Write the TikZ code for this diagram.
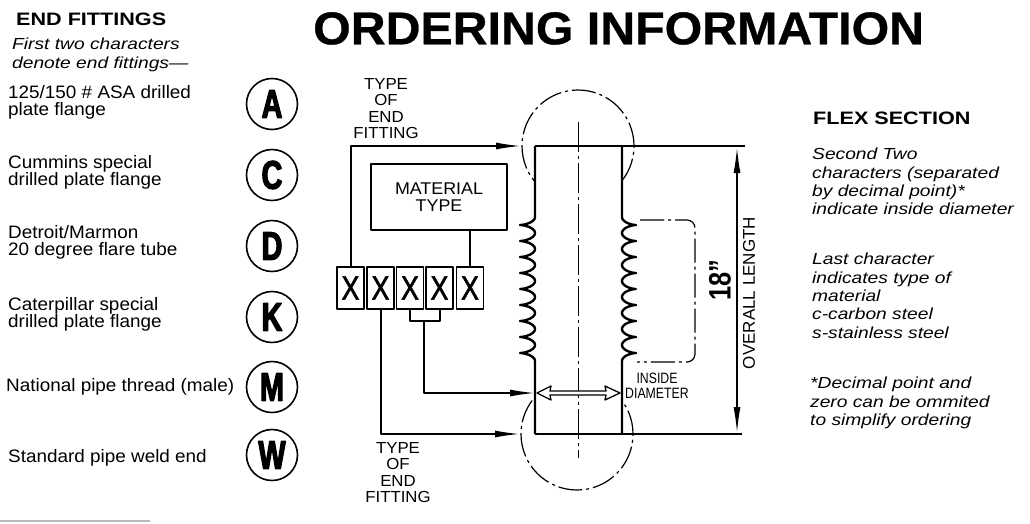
\documentclass[tikz,border=0pt]{standalone}
\usepackage{fontspec}
\setmainfont{Liberation Sans}
\newfontfamily\ttlfont{Liberation Sans}[FakeStretch=1.05,FakeBold=0.6]
\newfontfamily\hdfont{Liberation Sans}[FakeStretch=1.2]
\newfontfamily\txtfont{Liberation Sans}[FakeStretch=1.05]
\newfontfamily\keyfont{Liberation Sans}[FakeStretch=0.72,FakeBold=3]
\newfontfamily\cndfont{Liberation Sans}[FakeStretch=0.82]
\newfontfamily\xfont{Liberation Sans}[FakeStretch=0.8,FakeBold=1.5]
\usetikzlibrary{arrows.meta}
\begin{document}
\begin{tikzpicture}[x=1pt,y=-1pt,line join=round,
    lbl/.style={inner sep=0pt,anchor=north west,align=left,font=\txtfont\fontsize{18}{17.5}\selectfont},
    note/.style={inner sep=0pt,anchor=north west,align=left,font=\hdfont\itshape\fontsize{16}{18.3}\selectfont},
    key/.style={draw,circle,line width=1.6pt,minimum size=51pt,inner sep=0pt,font=\keyfont\bfseries\fontsize{40}{40}\selectfont},
    xbox/.style={draw,line width=1.4pt,minimum width=27pt,minimum height=42pt,inner sep=0pt,font=\xfont\fontsize{34}{34}\selectfont},
    tag/.style={inner sep=0pt,anchor=north,align=center,font=\txtfont\fontsize{16}{16.5}\selectfont},
    lead/.style={line width=2pt},
    phantom/.style={line width=1.2pt,dash pattern=on 24pt off 4pt on 3pt off 4pt},
    >={Latex[length=26pt,width=7pt]}]
\useasboundingbox (0,0) rectangle (1030,523);
% headings
\node[inner sep=0pt,anchor=north west,font=\ttlfont\bfseries\fontsize{46}{46}\selectfont] (title) at (313,12) {ORDERING INFORMATION};
\node[inner sep=0pt,anchor=north west,font=\hdfont\bfseries\fontsize{18}{18}\selectfont] (endhd) at (16,13) {END FITTINGS};
\node[note] (endsub) at (12,38) {First two characters\\denote end fittings\textemdash};
% end fitting list
\node[lbl] (txtA) at (8,85) {125/150 \# ASA drilled\\plate flange};
\node[lbl] (txtC) at (8,155) {Cummins special\\drilled plate flange};
\node[lbl] (txtD) at (8,225) {Detroit/Marmon\\20 degree flare tube};
\node[lbl] (txtK) at (8,297) {Caterpillar special\\drilled plate flange};
\node[lbl] (txtM) at (6,378) {National pipe thread (male)};
\node[lbl] (txtW) at (8,449) {Standard pipe weld end};
\foreach \k/\yy in {A/104,C/175,D/246,K/317,M/387,W/455}
    \node[key] (fit\k) at (272,\yy) {\k};
% code boxes
\foreach \i/\xx in {1/350.5,2/380.5,3/410,4/439.5,5/470}
    \node[xbox] (x\i) at (\xx,288) {X};
\node[draw,line width=1.4pt,minimum width=136pt,minimum height=66pt,align=center,font=\txtfont\fontsize{17}{17}\selectfont] (mat) at (439,197) {MATERIAL\\TYPE};
\node[tag] (typtop) at (386,78) {TYPE\\OF\\END\\FITTING};
\node[tag] (typbot) at (398,442) {TYPE\\OF\\END\\FITTING};
% phantom ends, then the hose
\draw[phantom] (578,146) circle[radius=56pt];
\draw[phantom] (577,434) circle[radius=56pt];
\fill[white] (535,146) rectangle (622,434);
\draw[line width=1pt,dash pattern=on 30pt off 4pt on 3pt off 4pt] (578,122) -- (578,458);
\draw[line width=2.4pt] (535,146) -- (622,146) (535,434) -- (622,434);
\draw[line width=2.4pt] (535,146) -- (535,217) -- plot[domain=0:3240,samples=500] ({535-7.5*(1-cos(\x))},{217+\x/22.5+2.6*sin(\x)}) -- (535,434);
\draw[line width=2.4pt] (622,146) -- (622,217) -- plot[domain=0:3240,samples=500] ({622+7*(1-cos(\x))},{217+\x/22.5+2.6*sin(\x)}) -- (622,434);
\draw[phantom,rounded corners=8pt] (640,220) -- (695,220) -- (695,362) -- (637,362);
% inside diameter
\draw[line width=1.3pt,fill=white] (537,393) -- (551,386) -- (550,391) -- (606,391) -- (605,386) -- (620,393) -- (605,400) -- (606,395) -- (550,395) -- (551,400) -- cycle;
\node[inner sep=0pt,align=center,font=\cndfont\fontsize{15}{14.5}\selectfont] (idlbl) at (657,386) {INSIDE\\DIAMETER};
% overall length
\draw[line width=1.4pt] (622,146) -- (745,146) (622,434) -- (742,434);
\draw[line width=1.6pt,<->] (737,147) -- (737,433);
\node[rotate=90,inner sep=0pt,font=\cndfont\bfseries\fontsize{31}{31}\selectfont] (len) at (720,280) {18”};
\node[rotate=90,inner sep=0pt,font=\fontsize{17}{17}\selectfont] (ovl) at (749,293) {OVERALL LENGTH};
% leads
\coordinate (fittop) at (522,146);
\coordinate (fitbot) at (521,434);
\coordinate (idin) at (536,393);
\coordinate (brk) at (424,321);
\draw[lead,->] (x1.north) |- (fittop);
\draw[lead] (x5.north) -- (x5.north |- mat.south);
\draw[lead] (x3.south) |- (brk) -| (x4.south);
\draw[lead,->] (brk) |- (idin);
\draw[lead,->] (x2.south) |- (fitbot);
% flex section notes
\node[inner sep=0pt,anchor=north west,font=\hdfont\bfseries\fontsize{18}{18}\selectfont] (flexhd) at (813,112) {FLEX SECTION};
\node[note] (note1) at (812,148) {Second Two\\characters (separated\\by decimal point)*\\indicate inside diameter};
\node[note] (note2) at (812,253) {Last character\\indicates type of\\material\\c-carbon steel\\s-stainless steel};
\node[note] (note3) at (810,377) {*Decimal point and\\zero can be ommited\\to simplify ordering};
\draw[gray!55,line width=2.5pt] (0,521) -- (150,521);
\end{tikzpicture}
\end{document}
